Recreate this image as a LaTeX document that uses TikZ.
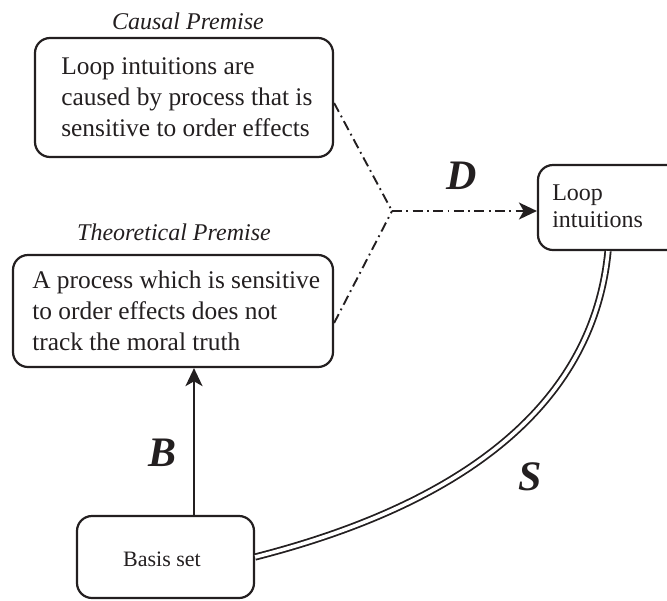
\documentclass[tikz,border=0pt]{standalone}
\usepackage{fontspec}
\setmainfont{Liberation Serif}
\usetikzlibrary{arrows.meta,calc}
\definecolor{ink}{HTML}{231F20}
\begin{document}
\begin{tikzpicture}[x=0.5pt,y=-0.5pt,
  every node/.style={text=ink},
  box/.style={draw=ink,line width=1.1pt,rounded corners=7.5pt,inner sep=0pt},
  bodytext/.style={font=\fontsize{12.7}{15.5}\selectfont,align=left,anchor=west,inner sep=0pt},
  title/.style={font=\fontsize{12}{14}\selectfont\itshape},
  biglabel/.style={font=\fontsize{21}{24}\selectfont\bfseries\itshape},
  dashdot/.style={draw=ink,line width=0.95pt,dash pattern=on 5pt off 2.2pt on 0.9pt off 2.2pt},
  tip/.style={-{Stealth[length=9pt,width=8.5pt,inset=2.4pt]}},
  strand/.style={draw=ink,line width=0.9pt,double=white,double distance=1.8pt}
]
\clip (0,0) rectangle (667,600);

% premise boxes
\node[box,minimum width=149pt,minimum height=59.5pt] (causal) at (184,97.5) {};
\node[bodytext] (causaltext) at ([xshift=13.5pt]causal.west)
  {Loop intuitions are\\caused by process that is\\sensitive to order effects};
\node[title] (causaltitle) at (188,21) {Causal Premise};

\node[box,minimum width=160pt,minimum height=56pt] (theo) at (173,311) {};
\node[bodytext] (theotext) at ([xshift=10pt]theo.west)
  {A process which is sensitive\\to order effects does not\\track the moral truth};
\node[title] (theotitle) at (174,232) {Theoretical Premise};

% conclusion and basis boxes
\node[box,minimum width=76pt,minimum height=42.5pt] (loop) at (614,207.5) {};
\node[bodytext,font=\fontsize{12}{13.5}\selectfont] (looptext) at ([xshift=7.5pt,yshift=0.5pt]loop.west)
  {Loop\\intuitions};
\node[box,minimum width=88.5pt,minimum height=41pt] (basis) at (165.5,557) {};
\node[font=\fontsize{11}{13}\selectfont,inner sep=0pt] (basistext) at (162,559) {Basis set};

% dash-dotted inference joining the premises
\coordinate (join) at (392,211);
\draw[dashdot] ([yshift=-2.75pt]causal.east) -- (join);
\draw[dashdot] ([yshift=-6pt]theo.east) -- (join);
\draw[dashdot,tip] (join) -- (join -| loop.west);
\node[biglabel] (dlabel) at (462,176) {D};

% basis arrow
\draw[draw=ink,line width=1.1pt,tip] ([xshift=14.25pt]basis.north) -- ([xshift=14.25pt]basis.north |- theo.south);
\node[biglabel] (blabel) at (163,453) {B};

% double strand from the intuitions to the basis set
\draw[strand] ([xshift=-3pt]loop.south) .. controls (590,440) and (400,520) .. (basis.east);
\node[biglabel] (slabel) at (530,477) {S};
\end{tikzpicture}
\end{document}
